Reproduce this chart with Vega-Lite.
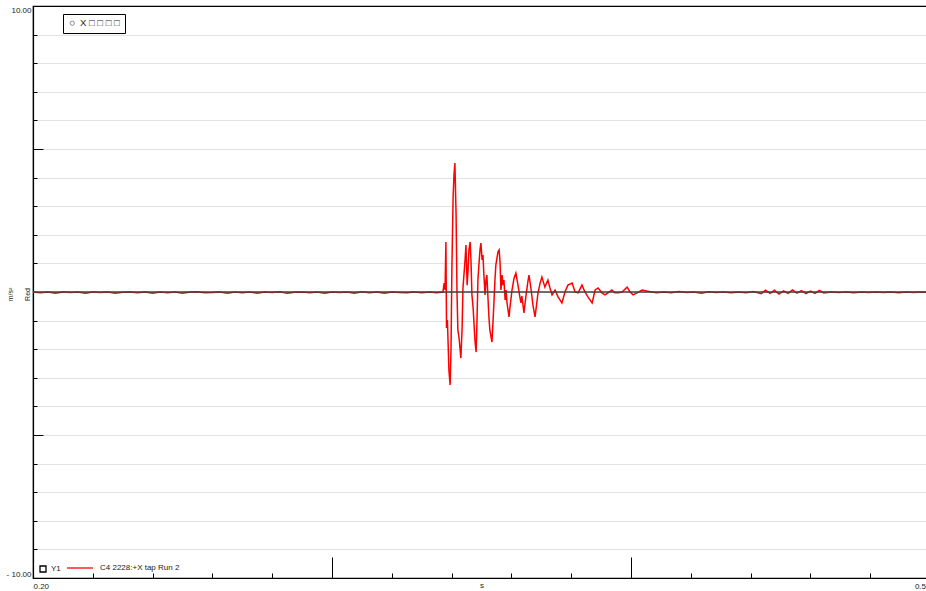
{
  "$schema": "https://vega.github.io/schema/vega-lite/v6.json",
  "width": 897,
  "height": 572,
  "autosize": {"type": "none"},
  "padding": {"left": 33, "top": 6, "right": 0, "bottom": 13},
  "background": "white",
  "config": {
    "view": {"stroke": "black", "strokeWidth": 1.2},
    "font": "Liberation Sans",
    "legend": {"labelFont": "Liberation Sans", "labelColor": "#222", "labelFontSize": 8}
  },
  "layer": [
    {
      "data": {
        "values": [
          {"t": 0.2000, "v": 0.00}, {"t": 0.2025, "v": -0.03}, {"t": 0.2050, "v": 0.00}, {"t": 0.2075, "v": -0.04},
          {"t": 0.2100, "v": 0.00}, {"t": 0.2125, "v": -0.02}, {"t": 0.2150, "v": 0.00}, {"t": 0.2175, "v": -0.04},
          {"t": 0.2200, "v": 0.00}, {"t": 0.2225, "v": -0.02}, {"t": 0.2250, "v": 0.00}, {"t": 0.2275, "v": -0.04},
          {"t": 0.2300, "v": -0.01}, {"t": 0.2325, "v": 0.00}, {"t": 0.2350, "v": -0.03}, {"t": 0.2375, "v": 0.00},
          {"t": 0.2400, "v": -0.04}, {"t": 0.2425, "v": 0.00}, {"t": 0.2450, "v": -0.03}, {"t": 0.2475, "v": 0.00},
          {"t": 0.2500, "v": -0.04}, {"t": 0.2525, "v": 0.00}, {"t": 0.2550, "v": 0.01}, {"t": 0.2575, "v": -0.03},
          {"t": 0.2600, "v": -0.02}, {"t": 0.2625, "v": 0.00}, {"t": 0.2650, "v": -0.04}, {"t": 0.2675, "v": 0.00},
          {"t": 0.2700, "v": -0.03}, {"t": 0.2725, "v": 0.00}, {"t": 0.2750, "v": -0.04}, {"t": 0.2775, "v": 0.00},
          {"t": 0.2800, "v": -0.02}, {"t": 0.2825, "v": 0.01}, {"t": 0.2850, "v": -0.04}, {"t": 0.2875, "v": -0.01},
          {"t": 0.2900, "v": 0.00}, {"t": 0.2925, "v": -0.03}, {"t": 0.2950, "v": 0.00}, {"t": 0.2975, "v": -0.04},
          {"t": 0.3000, "v": 0.00}, {"t": 0.3025, "v": -0.02}, {"t": 0.3050, "v": 0.00}, {"t": 0.3075, "v": -0.04},
          {"t": 0.3100, "v": 0.01}, {"t": 0.3125, "v": -0.03}, {"t": 0.3150, "v": 0.00}, {"t": 0.3175, "v": -0.04},
          {"t": 0.3200, "v": 0.00}, {"t": 0.3225, "v": -0.02}, {"t": 0.3250, "v": -0.03}, {"t": 0.3275, "v": 0.00},
          {"t": 0.3300, "v": -0.03}, {"t": 0.3325, "v": 0.00}, {"t": 0.3350, "v": -0.03},
          {"t": 0.3371, "v": 0.00}, {"t": 0.3375, "v": 0.31}, {"t": 0.3378, "v": 0.07}, {"t": 0.3381, "v": 1.75},
          {"t": 0.3383, "v": -1.26}, {"t": 0.3386, "v": -0.98}, {"t": 0.3391, "v": -2.73}, {"t": 0.3395, "v": -3.25},
          {"t": 0.3398, "v": -2.03}, {"t": 0.3401, "v": 0.84}, {"t": 0.3405, "v": 3.29}, {"t": 0.3408, "v": 4.09},
          {"t": 0.3411, "v": 4.51}, {"t": 0.3415, "v": 2.69}, {"t": 0.3418, "v": 0.00}, {"t": 0.3421, "v": -1.33},
          {"t": 0.3425, "v": -1.61}, {"t": 0.3431, "v": -2.31}, {"t": 0.3435, "v": -1.33}, {"t": 0.3438, "v": 0.14},
          {"t": 0.3445, "v": 1.12}, {"t": 0.3448, "v": 1.64}, {"t": 0.3452, "v": 0.24}, {"t": 0.3455, "v": 0.77},
          {"t": 0.3458, "v": 1.47}, {"t": 0.3462, "v": 1.75}, {"t": 0.3465, "v": 1.05}, {"t": 0.3468, "v": -0.10},
          {"t": 0.3472, "v": -0.56}, {"t": 0.3478, "v": -1.68}, {"t": 0.3482, "v": -2.10}, {"t": 0.3485, "v": -0.98},
          {"t": 0.3488, "v": 0.42}, {"t": 0.3492, "v": 1.05}, {"t": 0.3495, "v": 1.47}, {"t": 0.3498, "v": 1.71},
          {"t": 0.3502, "v": 1.12}, {"t": 0.3505, "v": 1.29}, {"t": 0.3508, "v": 0.59}, {"t": 0.3512, "v": -0.10},
          {"t": 0.3515, "v": 0.42}, {"t": 0.3518, "v": 0.59}, {"t": 0.3522, "v": -0.28}, {"t": 0.3525, "v": -0.91},
          {"t": 0.3528, "v": -1.33}, {"t": 0.3535, "v": -1.75}, {"t": 0.3538, "v": -1.15}, {"t": 0.3542, "v": -0.28},
          {"t": 0.3545, "v": 0.42}, {"t": 0.3548, "v": 0.94}, {"t": 0.3555, "v": 1.40}, {"t": 0.3559, "v": 1.47},
          {"t": 0.3562, "v": 1.05}, {"t": 0.3565, "v": 0.07}, {"t": 0.3569, "v": 0.59}, {"t": 0.3572, "v": 0.24},
          {"t": 0.3575, "v": 0.42}, {"t": 0.3579, "v": -0.28}, {"t": 0.3582, "v": 0.07}, {"t": 0.3585, "v": -0.35},
          {"t": 0.3592, "v": -0.87}, {"t": 0.3595, "v": -0.56}, {"t": 0.3602, "v": 0.07}, {"t": 0.3609, "v": 0.49},
          {"t": 0.3615, "v": 0.66}, {"t": 0.3622, "v": 0.24}, {"t": 0.3629, "v": -0.21}, {"t": 0.3632, "v": -0.38},
          {"t": 0.3635, "v": -0.14}, {"t": 0.3642, "v": -0.73}, {"t": 0.3649, "v": -0.10}, {"t": 0.3656, "v": 0.42},
          {"t": 0.3659, "v": 0.59}, {"t": 0.3666, "v": 0.07}, {"t": 0.3672, "v": -0.45}, {"t": 0.3679, "v": -0.87},
          {"t": 0.3682, "v": -0.63}, {"t": 0.3689, "v": -0.03}, {"t": 0.3696, "v": 0.31}, {"t": 0.3702, "v": 0.52},
          {"t": 0.3712, "v": 0.17}, {"t": 0.3722, "v": 0.42}, {"t": 0.3729, "v": 0.14}, {"t": 0.3736, "v": -0.10},
          {"t": 0.3746, "v": 0.07}, {"t": 0.3756, "v": -0.17}, {"t": 0.3769, "v": -0.38}, {"t": 0.3779, "v": 0.00},
          {"t": 0.3789, "v": 0.24}, {"t": 0.3803, "v": 0.31}, {"t": 0.3813, "v": 0.00}, {"t": 0.3823, "v": -0.03},
          {"t": 0.3836, "v": 0.24}, {"t": 0.3846, "v": 0.00}, {"t": 0.3856, "v": -0.17}, {"t": 0.3870, "v": -0.38},
          {"t": 0.3880, "v": 0.07}, {"t": 0.3890, "v": 0.14}, {"t": 0.3903, "v": -0.03}, {"t": 0.3913, "v": -0.10},
          {"t": 0.3923, "v": -0.03}, {"t": 0.3936, "v": 0.07}, {"t": 0.3946, "v": -0.03}, {"t": 0.3957, "v": -0.03},
          {"t": 0.3970, "v": 0.00}, {"t": 0.3987, "v": 0.17}, {"t": 0.3997, "v": 0.00}, {"t": 0.4007, "v": -0.10},
          {"t": 0.4020, "v": -0.03}, {"t": 0.4037, "v": 0.07},
          {"t": 0.4060, "v": 0.02}, {"t": 0.4085, "v": -0.03}, {"t": 0.4110, "v": 0.00}, {"t": 0.4135, "v": -0.03},
          {"t": 0.4160, "v": 0.02}, {"t": 0.4185, "v": -0.02}, {"t": 0.4210, "v": 0.00}, {"t": 0.4235, "v": -0.04},
          {"t": 0.4260, "v": 0.01}, {"t": 0.4285, "v": -0.02}, {"t": 0.4310, "v": 0.00}, {"t": 0.4335, "v": -0.03},
          {"t": 0.4360, "v": 0.00}, {"t": 0.4385, "v": -0.03}, {"t": 0.4410, "v": 0.02}, {"t": 0.4435, "v": -0.06},
          {"t": 0.4450, "v": 0.06}, {"t": 0.4465, "v": -0.05}, {"t": 0.4480, "v": 0.06}, {"t": 0.4495, "v": -0.07},
          {"t": 0.4510, "v": 0.04}, {"t": 0.4525, "v": -0.05}, {"t": 0.4540, "v": 0.07}, {"t": 0.4555, "v": -0.04},
          {"t": 0.4570, "v": 0.05}, {"t": 0.4585, "v": -0.06}, {"t": 0.4600, "v": 0.03}, {"t": 0.4615, "v": -0.05},
          {"t": 0.4630, "v": 0.06}, {"t": 0.4645, "v": -0.03}, {"t": 0.4670, "v": 0.00}, {"t": 0.4695, "v": -0.02},
          {"t": 0.4720, "v": 0.00}, {"t": 0.4745, "v": -0.03}, {"t": 0.4770, "v": 0.00}, {"t": 0.4795, "v": -0.02},
          {"t": 0.4820, "v": 0.00}, {"t": 0.4845, "v": -0.02}, {"t": 0.4870, "v": 0.00}, {"t": 0.4895, "v": -0.03},
          {"t": 0.4920, "v": 0.00}, {"t": 0.4945, "v": -0.02}, {"t": 0.4970, "v": 0.00}, {"t": 0.5000, "v": -0.02}
        ]
      },
      "mark": {"type": "line", "strokeWidth": 1.5, "interpolate": "linear"},
      "encoding": {
        "x": {
          "field": "t", "type": "quantitative",
          "scale": {"domain": [0.2, 0.5], "nice": false, "zero": false},
          "axis": {
            "values": [0.2, 0.22, 0.24, 0.26, 0.28, 0.3, 0.32, 0.34, 0.36, 0.38, 0.4, 0.42, 0.44, 0.46, 0.48, 0.5],
            "tickCount": 40,
            "grid": false,
            "domainColor": "black", "domainWidth": 1.2,
            "tickColor": "black", "tickWidth": 1,
            "tickSize": {"condition": {"test": "abs(datum.value - 0.3) < 0.000001 || abs(datum.value - 0.4) < 0.000001", "value": -21}, "value": -5},
            "labelExpr": "datum.value < 0.201 ? '0.20' : (datum.value > 0.499 ? '0.50' : '')",
            "labelFlush": true, "labelOverlap": false,
            "labelFontSize": 8, "labelColor": "#222", "labelPadding": 9,
            "title": "s", "titleFontSize": 8, "titleFontWeight": "normal", "titleColor": "#222", "titlePadding": -9
          }
        },
        "y": {
          "field": "v", "type": "quantitative",
          "scale": {"domain": [-10, 10], "nice": false},
          "axis": {
            "values": [-10, -9, -8, -7, -6, -5, -4, -3, -2, -1, 0, 1, 2, 3, 4, 5, 6, 7, 8, 9, 10],
            "tickCount": 40,
            "grid": true,
            "gridColor": {"condition": {"test": "abs(datum.value) == 10", "value": "black"}, "value": "#e2e2e2"},
            "gridWidth": 1.2,
            "domainColor": "black", "domainWidth": 1.2,
            "tickColor": "black", "tickWidth": 1,
            "tickSize": {"condition": {"test": "abs(datum.value) == 5", "value": -10}, "value": -4},
            "labelExpr": "datum.value == 10 ? '10.00' : (datum.value == -10 ? '- 10.00' : '')",
            "labelFlush": true, "labelOverlap": false,
            "labelFontSize": 8, "labelColor": "#222", "labelPadding": 6,
            "title": ["m/s²", "Red"], "titleFontSize": 7, "titleFontWeight": "normal", "titleColor": "#222",
            "titleAngle": 270, "titleX": -23, "titleY": 288, "titleAlign": "center", "titleBaseline": "middle", "titleLineHeight": 17
          }
        },
        "color": {
          "datum": "C4 2228:+X tap Run 2",
          "scale": {"range": ["#ff0000"]},
          "legend": {
            "orient": "none", "legendX": 33, "legendY": 548, "title": null, "padding": 0,
            "symbolType": "stroke", "symbolSize": 676, "symbolStrokeWidth": 1.3, "labelOffset": 6
          }
        }
      }
    },
    {
      "data": {"values": [{}]},
      "mark": {"type": "rule", "color": "#404040", "strokeWidth": 1.3},
      "encoding": {"y": {"datum": 0}}
    },
    {
      "data": {"values": [{}]},
      "mark": {"type": "point", "filled": false, "color": "black", "opacity": 0},
      "encoding": {
        "shape": {
          "datum": "Y1",
          "scale": {"range": ["square"]},
          "legend": {
            "orient": "none", "legendX": 6, "legendY": 559, "title": null, "padding": 0,
            "symbolSize": 36, "symbolOpacity": 1, "symbolStrokeWidth": 1.3, "symbolStrokeColor": "black", "labelOffset": 4,
            "encode": {"symbols": {"update": {"stroke": {"value": "black"}, "opacity": {"value": 1}}}}
          }
        },
        "stroke": {
          "datum": "X □ □ □ □",
          "scale": {"range": ["#8a8aa0"]},
          "legend": {
            "orient": "none", "legendX": 30, "legendY": 8, "title": null, "padding": 4.5,
            "strokeColor": "black", "fillColor": "white",
            "symbolType": "circle", "symbolSize": 18, "symbolOpacity": 1, "symbolStrokeWidth": 1, "labelOffset": 3,
            "labelFontSize": 9.5,
            "encode": {"symbols": {"update": {"stroke": {"value": "#8a8aa0"}, "opacity": {"value": 1}, "fill": {"value": "transparent"}}}}
          }
        }
      }
    }
  ]
}
